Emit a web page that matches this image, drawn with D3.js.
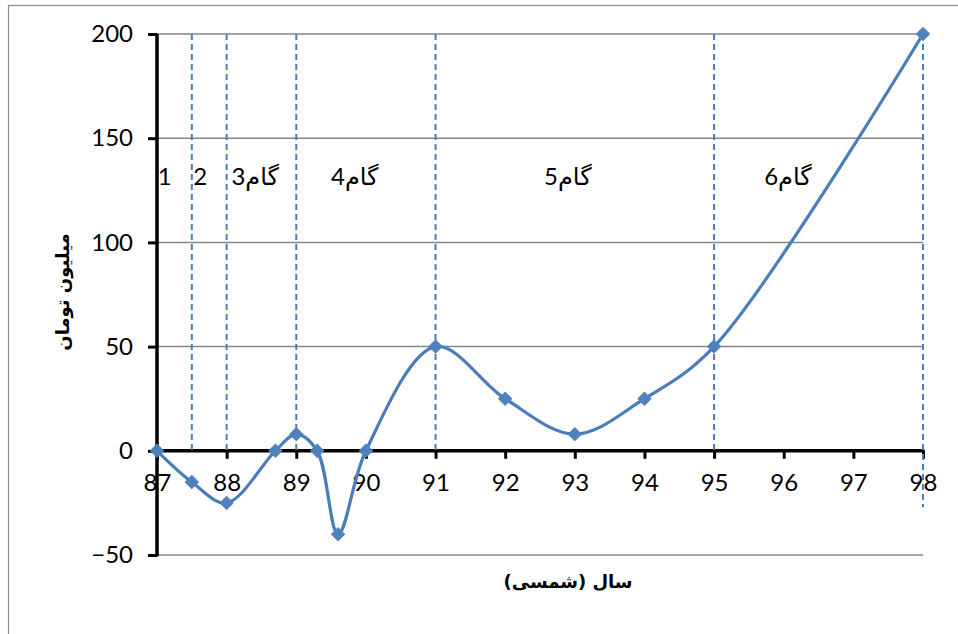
<!DOCTYPE html>
<html>
<head>
<meta charset="utf-8">
<script src="https://cdn.jsdelivr.net/npm/d3@7"></script>
<style>
  html, body { margin: 0; padding: 0; background: #fff; }
  svg { display: block; }
</style>
</head>
<body>
<svg id="chart" width="958" height="634"></svg>
<script>
// Yearly values (million toman) by Solar Hijri year
const years  = [87, 87.5, 88, 88.7, 89, 89.3, 89.6, 90, 91, 92, 93, 94, 95, 98];
const values = [0, -15, -25, 0, 8, 0, -40, 0, 50, 25, 8, 25, 50, 200];

// Step boundaries (dashed verticals) and step labels
const stepBounds   = [87.5, 88, 89, 91, 95, 98];
const stepBoundEnd = [0, 0, 0, 0, 0, -27];
const stepLabels   = ["1", "2", "گام3", "گام4", "گام5", "گام6"];
const stepCenters  = [87.11, 87.62, 88.41, 89.84, 92.9, 96.06];
const stepLabelY   = 132;

const xTicks = [87, 88, 89, 90, 91, 92, 93, 94, 95, 96, 97, 98];
const yTicks = [-50, 0, 50, 100, 150, 200];

const xTitle = "سال (شمسی)";
const yTitle = "میلیون تومان";

const svg = d3.select("#chart");
const blue = "#4a7ebb";
const markerBlue = "#4f81bd";
const font = "Lato, 'DejaVu Sans', sans-serif";
const labelSize = 24;

const x = d3.scaleLinear().domain([87, 98]).range([157, 923]);
const y = d3.scaleLinear().domain([-50, 200]).range([555, 34]);

// chart frame
svg.append("rect")
  .attr("x", 8.5).attr("y", 5.5)
  .attr("width", 1000).attr("height", 700)
  .attr("fill", "none").attr("stroke", "#8c8c8c").attr("stroke-width", 1.2);

// horizontal gridlines
svg.append("g").selectAll("line")
  .data(yTicks.filter(v => v !== 0))
  .join("line")
  .attr("x1", x(87)).attr("x2", x(98))
  .attr("y1", d => y(d)).attr("y2", d => y(d))
  .attr("stroke", "#868686").attr("stroke-width", 1.5);

// y axis
const yAxis = d3.axisLeft(y).tickValues(yTicks).tickSize(9).tickPadding(15)
  .tickFormat(d3.format("d"));
const gy = svg.append("g").attr("transform", `translate(${x(87)},0)`).call(yAxis);
gy.select(".domain").remove();
gy.selectAll(".tick line").attr("stroke", "#000").attr("stroke-width", 3);
gy.selectAll(".tick text").attr("font-family", font).attr("font-size", labelSize).attr("fill", "#000");

// x axis at zero
const xAxis = d3.axisBottom(x).tickValues(xTicks).tickSize(8).tickPadding(15)
  .tickFormat(d3.format("d"));
const gx = svg.append("g").attr("transform", `translate(0,${y(0)})`).call(xAxis);
gx.select(".domain").remove();
gx.selectAll(".tick line").attr("stroke", "#000").attr("stroke-width", 3);
gx.selectAll(".tick text").attr("font-family", font).attr("font-size", labelSize).attr("fill", "#000");

svg.append("line")
  .attr("x1", x(87) - 1.5).attr("x2", x(98) + 1.5)
  .attr("y1", y(0)).attr("y2", y(0))
  .attr("stroke", "#000").attr("stroke-width", 3.5);
svg.append("line")
  .attr("x1", x(87)).attr("x2", x(87))
  .attr("y1", y(200)).attr("y2", y(-50) + 1.5)
  .attr("stroke", "#000").attr("stroke-width", 3.5);

// dashed step boundaries
svg.append("g").selectAll("line")
  .data(stepBounds)
  .join("line")
  .attr("x1", d => x(d)).attr("x2", d => x(d))
  .attr("y1", y(200))
  .attr("y2", (d, i) => y(stepBoundEnd[i]))
  .attr("stroke", blue).attr("stroke-width", 2)
  .attr("stroke-dasharray", "6,4");

// step labels
svg.append("g").selectAll("text")
  .data(stepLabels)
  .join("text")
  .attr("x", (d, i) => x(stepCenters[i]))
  .attr("y", y(stepLabelY))
  .attr("text-anchor", "middle")
  .attr("dominant-baseline", "central")
  .attr("font-family", font).attr("font-size", labelSize).attr("fill", "#000")
  .text(d => d);

// smoothed series line
const pts = years.map((yr, i) => [yr, values[i]]);
const line = d3.line()
  .x(d => x(d[0])).y(d => y(d[1]))
  .curve(d3.curveCatmullRom.alpha(0.5));
svg.append("path")
  .datum(pts)
  .attr("d", line)
  .attr("fill", "none")
  .attr("stroke", blue)
  .attr("stroke-width", 3.2)
  .attr("stroke-linejoin", "round");

// diamond markers
const diamond = d3.symbol().type(d3.symbolSquare).size(85);
svg.append("g").selectAll("path")
  .data(pts)
  .join("path")
  .attr("d", diamond)
  .attr("transform", d => `translate(${x(d[0])},${y(d[1])}) rotate(45)`)
  .attr("fill", markerBlue)
  .attr("stroke", markerBlue).attr("stroke-width", 1);

// axis titles
svg.append("text")
  .attr("x", 568).attr("y", 581)
  .attr("text-anchor", "middle").attr("dominant-baseline", "central")
  .attr("font-family", "'DejaVu Sans', sans-serif").attr("font-weight", "bold")
  .attr("font-size", 18).attr("fill", "#000")
  .text(xTitle);

svg.append("text")
  .attr("transform", `translate(62,292) rotate(-90)`)
  .attr("text-anchor", "middle").attr("dominant-baseline", "central")
  .attr("font-family", "'DejaVu Sans', sans-serif").attr("font-weight", "bold")
  .attr("font-size", 18).attr("fill", "#000")
  .text(yTitle);
</script>
</body>
</html>
